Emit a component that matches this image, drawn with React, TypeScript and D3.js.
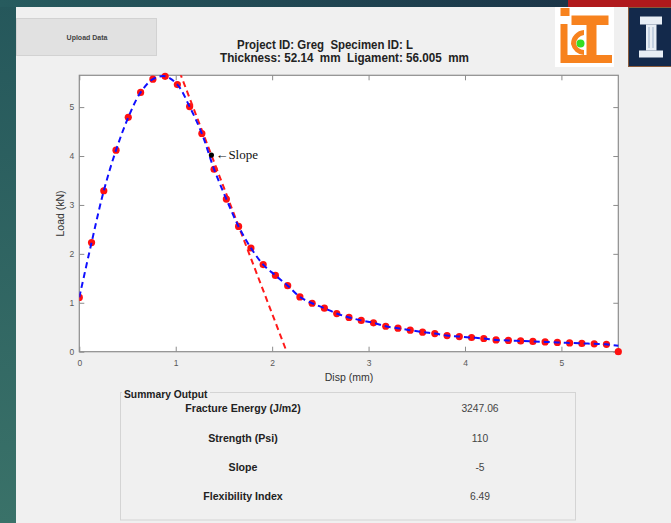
import React, { useEffect, useRef } from "react";
import * as d3 from "d3";

// Load–displacement record (mm, kN)
const disp = [
  0, 0.127, 0.254, 0.381, 0.508, 0.636, 0.763, 0.89, 1.017, 1.144, 1.271, 1.398,
  1.525, 1.652, 1.78, 1.907, 2.034, 2.161, 2.288, 2.415, 2.542, 2.67, 2.797, 2.924,
  3.051, 3.178, 3.305, 3.432, 3.56, 3.687, 3.814, 3.941, 4.068, 4.195, 4.322, 4.45,
  4.577, 4.704, 4.831, 4.958, 5.085, 5.212, 5.34, 5.467, 5.59,
];
const load = [
  1.11, 2.23, 3.29, 4.12, 4.79, 5.3, 5.57, 5.63, 5.46, 5.01, 4.46, 3.73,
  3.12, 2.56, 2.12, 1.78, 1.56, 1.35, 1.12, 0.99, 0.89, 0.78, 0.7, 0.64,
  0.59, 0.52, 0.48, 0.44, 0.4, 0.37, 0.33, 0.31, 0.29, 0.27, 0.24, 0.23,
  0.22, 0.21, 0.2, 0.19, 0.18, 0.17, 0.16, 0.15, 0,
];
// end of the fitted curve at the right edge of the axes
const fitTail = { disp: 5.59, load: 0.12 };

// post-peak inflection point and the slope of its tangent (kN/mm)
const slopePoint = { disp: 1.37, load: 4.02 };
const slopeValue = -5.15;

const xDomain = [0, 5.59];
const yDomain = [0, 5.65];
const xTicks = [0, 1, 2, 3, 4, 5];
const yTicks = [0, 1, 2, 3, 4, 5];

const titleLines = [
  "Project ID: Greg  Specimen ID: L",
  "Thickness: 52.14  mm  Ligament: 56.005  mm",
];
const summaryLabels = [
  "Fracture Energy (J/m2)",
  "Strength (Psi)",
  "Slope",
  "Flexibility Index",
];
const summaryValues = ["3247.06", "110", String(Math.round(slopeValue)), "6.49"];

const W = 671;
const H = 523;
const plot = { left: 79.3, right: 618.3, top: 75.3, bottom: 351.7 };
const SANS = "'Liberation Sans', Arial, Helvetica, sans-serif";
const AXIS_GRAY = "#8c8c8c";

export default function App() {
  const axesRef = useRef<SVGGElement>(null);

  const x = d3.scaleLinear().domain(xDomain).range([plot.left, plot.right]);
  const y = d3.scaleLinear().domain(yDomain).range([plot.bottom, plot.top]);

  const pts = disp.map((d, i) => [d, load[i]] as [number, number]);
  const fitPts: [number, number][] = [
    ...pts.slice(0, pts.length - 1),
    [fitTail.disp, fitTail.load],
  ];

  const fitLine = d3
    .line<[number, number]>()
    .x((d) => x(d[0]))
    .y((d) => y(d[1]))
    .curve(d3.curveCatmullRom.alpha(0.5));

  // tangent line through the inflection point, spanning the axes
  const tangentAt = (d: number) => slopePoint.load + slopeValue * (d - slopePoint.disp);
  const tanX0 = slopePoint.disp + (yDomain[1] - slopePoint.load) / slopeValue;
  const tanX1 = slopePoint.disp - slopePoint.load / slopeValue;
  const tangent = d3
    .line<number>()
    .x((d) => x(d))
    .y((d) => y(tangentAt(d)))([tanX0 - 0.05, tanX1]);

  useEffect(() => {
    const g = d3.select(axesRef.current);
    g.selectAll("*").remove();

    const styleAxis = (sel: d3.Selection<SVGGElement, unknown, null, undefined>) => {
      sel.select(".domain").remove();
      sel.selectAll("line").attr("stroke", AXIS_GRAY);
      sel
        .selectAll("text")
        .attr("fill", "#585858")
        .style("font-family", SANS)
        .style("font-size", "8.5px");
    };

    g.append("g")
      .attr("transform", `translate(0,${plot.bottom})`)
      .call(d3.axisBottom(x).tickValues(xTicks).tickSizeInner(-5).tickSizeOuter(0).tickPadding(8).tickFormat(d3.format("d")))
      .call(styleAxis as any);
    g.append("g")
      .attr("transform", `translate(0,${plot.top})`)
      .call(d3.axisTop(x).tickValues(xTicks).tickSizeInner(-5).tickSizeOuter(0).tickFormat(() => ""))
      .call(styleAxis as any);
    g.append("g")
      .attr("transform", `translate(${plot.left},0)`)
      .call(d3.axisLeft(y).tickValues(yTicks).tickSizeInner(-5).tickSizeOuter(0).tickPadding(5).tickFormat(d3.format("d")))
      .call(styleAxis as any);
    g.append("g")
      .attr("transform", `translate(${plot.right},0)`)
      .call(d3.axisRight(y).tickValues(yTicks).tickSizeInner(-5).tickSizeOuter(0).tickFormat(() => ""))
      .call(styleAxis as any);

    g.append("rect")
      .attr("x", plot.left)
      .attr("y", plot.top)
      .attr("width", plot.right - plot.left)
      .attr("height", plot.bottom - plot.top)
      .attr("fill", "none")
      .attr("stroke", AXIS_GRAY)
      .attr("stroke-width", 1.2);
  }, []);

  const rowY = [408, 438, 467.5, 496.5];

  return (
    <svg
      width={W}
      height={H}
      style={{ position: "fixed", left: 0, top: 0, display: "block" }}
      fontFamily={SANS}
    >
      <defs>
        <linearGradient id="sideBg" x1="0" y1="0" x2="0" y2="1">
          <stop offset="0" stopColor="#25575b" />
          <stop offset="1" stopColor="#3a7269" />
        </linearGradient>
        <linearGradient id="topBg" x1="0" y1="0" x2="1" y2="0">
          <stop offset="0" stopColor="#275b5e" />
          <stop offset="1" stopColor="#1b3548" />
        </linearGradient>
        <clipPath id="plotClip">
          <rect x={plot.left} y={plot.top - 4} width={plot.right - plot.left + 4} height={plot.bottom - plot.top + 8} />
        </clipPath>
        <clipPath id="tanClip">
          <rect x={plot.left} y={plot.top} width={plot.right - plot.left} height={plot.bottom - plot.top} />
        </clipPath>
      </defs>

      {/* window chrome */}
      <rect x={0} y={0} width={W} height={H} fill="url(#sideBg)" />
      <rect x={0} y={0} width={568} height={7} fill="url(#topBg)" />
      <rect x={568} y={0} width={W - 568} height={7} fill="#b0191c" />
      <rect x={16} y={7} width={W - 16} height={H - 7} fill="#f0f0f0" />

      {/* upload button */}
      <rect x={16.5} y={18.5} width={140} height={37} fill="#e1e1e1" stroke="#d2d2d2" />
      <text x={87} y={40.2} textAnchor="middle" fontSize={7} fontWeight="bold" fill="#444">
        Upload Data
      </text>

      {/* title */}
      {titleLines.map((t, i) => (
        <text
          key={t}
          x={i === 0 ? 325 : 344.5}
          y={i === 0 ? 48.5 : 61.5}
          textAnchor="middle"
          fontSize={12}
          fontWeight="bold"
          fill="#222"
          xmlSpace="preserve"
          style={{ whiteSpace: "pre" }}
          textLength={i === 0 ? 176 : 249}
          lengthAdjust="spacingAndGlyphs"
        >
          {t}
        </text>
      ))}

      {/* ICT logo */}
      <g>
        <rect x={555} y={7} width={59} height={60} fill="#ffffff" />
        <rect x={560.5} y={8} width={9} height={8} fill="#f7821e" />
        <rect x={571.5} y={15.5} width={37} height={9.5} fill="#f7821e" />
        <rect x={586.5} y={25} width={10} height={30} fill="#f7821e" />
        <rect x={560.5} y={24} width={7} height={39} fill="#f7821e" />
        <rect x={566} y={55} width={46} height={8} fill="#f7821e" />
        <path d="M 584 30 A 14 14 0 0 0 571 44 A 14 14 0 0 0 584 55 L 584 50 A 9 9 0 0 1 576 44 A 9 9 0 0 1 584 35 Z" fill="#f7821e" />
        <circle cx={580.5} cy={43.5} r={4} fill="#33dd22" />
      </g>

      {/* Illinois logo */}
      <g>
        <rect x={628.5} y={7.5} width={45} height={59} fill="#13294b" stroke="#8a5a3a" strokeWidth={1} />
        <rect x={640} y={16.5} width={22} height={8} fill="#e8eef5" />
        <rect x={646} y={24.5} width={10.5} height={26} fill="#e8eef5" />
        <rect x={639} y={50.5} width={24} height={7} fill="#e8eef5" />
        <line x1={649} y1={27} x2={649} y2={48} stroke="#9fb3cc" strokeWidth={1} />
        <line x1={653} y1={27} x2={653} y2={48} stroke="#9fb3cc" strokeWidth={1} />
      </g>

      {/* axes */}
      <rect x={plot.left} y={plot.top} width={plot.right - plot.left} height={plot.bottom - plot.top} fill="#ffffff" />
      <g ref={axesRef} />

      {/* data markers */}
      <g clipPath="url(#plotClip)">
        {pts.map((p, i) => (
          <circle key={i} cx={x(p[0])} cy={y(p[1])} r={3.6} fill="#ff1010" />
        ))}
      </g>

      {/* tangent at the inflection point */}
      <path
        d={tangent ?? ""}
        clipPath="url(#tanClip)"
        fill="none"
        stroke="#ff1a1a"
        strokeWidth={2}
        strokeDasharray="6,4"
      />

      {/* fitted curve */}
      <path
        d={fitLine(fitPts) ?? ""}
        clipPath="url(#plotClip)"
        fill="none"
        stroke="#1010ff"
        strokeWidth={2}
        strokeDasharray="6,4"
      />

      {/* slope marker */}
      <circle cx={x(slopePoint.disp)} cy={y(slopePoint.load)} r={2.6} fill="#000" />
      <text
        x={x(slopePoint.disp) + 4}
        y={y(slopePoint.load) + 4}
        fontFamily="'Liberation Serif', 'Times New Roman', serif"
        fontSize={13}
        fill="#111"
      >
        ←Slope
      </text>

      {/* axis titles */}
      <text x={349} y={380.5} textAnchor="middle" fontSize={10.5} fill="#333">
        Disp (mm)
      </text>
      <text
        transform={`translate(63.5,${(plot.top + plot.bottom) / 2}) rotate(-90)`}
        textAnchor="middle"
        fontSize={10.5}
        fill="#333"
      >
        Load (kN)
      </text>

      {/* summary panel */}
      <rect x={120.5} y={392.5} width={455} height={127.5} fill="#f0f0f0" stroke="#d4d4d4" />
      <rect x={122} y={387} width={88} height={10} fill="#f0f0f0" />
      <text x={124} y={398} fontSize={10.3} fontWeight="bold" fill="#222">
        Summary Output
      </text>
      {summaryLabels.map((lab, i) => (
        <text key={lab} x={243} y={rowY[i] + 3.7} textAnchor="middle" fontSize={10.6} fontWeight="bold" fill="#222">
          {lab}
        </text>
      ))}
      {summaryValues.map((v, i) => (
        <text key={i} x={480} y={rowY[i] + 3.6} textAnchor="middle" fontSize={10.3} fill="#444">
          {v}
        </text>
      ))}
    </svg>
  );
}
